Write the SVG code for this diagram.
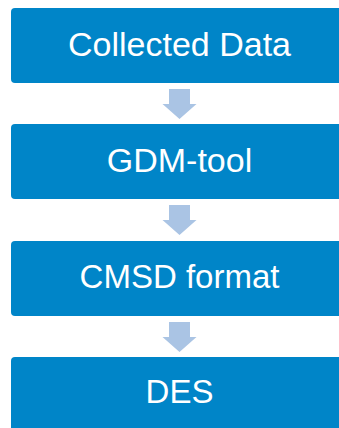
<svg xmlns="http://www.w3.org/2000/svg" width="339" height="428" viewBox="0 0 339 428">
  <defs>
    <style>
      .box { fill: #0085C8; }
      .lbl { fill: #FFFFFF; font-family: "Liberation Sans", Arial, sans-serif; font-size: 34px; text-anchor: middle; }
      .sm { font-size: 33px; }
      .arrow { fill: #AAC4E4; }
    </style>
    <!-- block arrow pointing down, tip at (0,0) -->
    <path id="down" d="M -10.5 -30 H 10.5 V -15 H 17 L 0 0 L -17 -15 H -10.5 Z"/>
  </defs>
  <rect width="339" height="428" fill="#FFFFFF"/>

  <g id="collected-data">
    <rect class="box" x="11" y="8" width="337" height="75" rx="4"/>
    <text class="lbl" x="179.5" y="56">Collected Data</text>
  </g>
  <g id="gdm-tool">
    <rect class="box" x="11" y="124" width="337" height="75" rx="4"/>
    <text class="lbl" x="179.5" y="172">GDM-tool</text>
  </g>
  <g id="cmsd-format">
    <rect class="box" x="11" y="241" width="337" height="75" rx="4"/>
    <text class="lbl sm" x="179.5" y="288">CMSD format</text>
  </g>
  <g id="des">
    <rect class="box" x="11" y="357" width="337" height="75" rx="4"/>
    <text class="lbl sm" x="179.5" y="403">DES</text>
  </g>

  <g id="connectors">
    <use href="#down" class="arrow" x="179.5" y="119"/>
    <use href="#down" class="arrow" x="179.5" y="235"/>
    <use href="#down" class="arrow" x="179.5" y="352"/>
  </g>
</svg>
